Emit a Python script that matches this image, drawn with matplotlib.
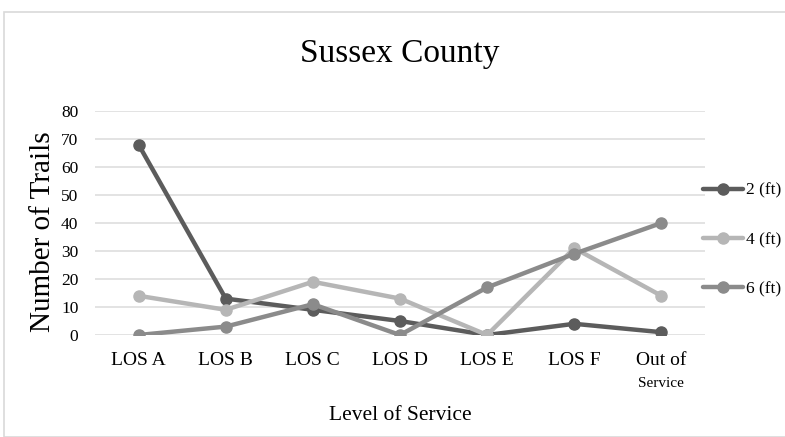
import matplotlib
matplotlib.use("Agg")
import matplotlib.pyplot as plt
from matplotlib.patches import Rectangle

categories = ["LOS A", "LOS B", "LOS C", "LOS D", "LOS E", "LOS F", "Out of\nService"]
series_names = ["2 (ft)", "4 (ft)", "6 (ft)"]
values_2ft = [68, 13, 9, 5, 0, 4, 1]
values_4ft = [14, 9, 19, 13, 0, 31, 14]
values_6ft = [0, 3, 11, 0, 17, 29, 40]
yticks = [0, 10, 20, 30, 40, 50, 60, 70, 80]

colors = ["#5c5c5c", "#b6b6b6", "#8b8b8b"]
serif = ["Liberation Serif", "DejaVu Serif"]
plt.rcParams["font.family"] = serif

W, H = 785, 437
fig = plt.figure(figsize=(W / 100, H / 100), dpi=100)
fig.patches.append(Rectangle((4 / W, 0), 1, 1 - 12 / H, transform=fig.transFigure,
                             fill=False, edgecolor="#d9d9d9", linewidth=1.2))

ax = fig.add_axes([95 / W, 1 - 335 / H, (705 - 95) / W, (335 - 111) / H])
x = list(range(len(categories)))
for vals, c, name in zip([values_2ft, values_4ft, values_6ft], colors, series_names):
    ax.plot(x, vals, color=c, linewidth=3.2, marker="o", markersize=8, label=name,
            solid_capstyle="round")

ax.set_xlim(-0.5, len(categories) - 0.5)
ax.set_ylim(0, 80)
ax.set_yticks(yticks)
ax.set_xticks(x)
ax.set_xticklabels([])
for xi, lab in zip(x, categories):
    if "\n" in lab:
        a, b = lab.split("\n")
        ax.text(xi, -6.0, a, ha="center", va="top", fontsize=14, clip_on=False)
        ax.text(xi, -15.0, b, ha="center", va="top", fontsize=11, clip_on=False)
    else:
        ax.text(xi, -6.0, lab, ha="center", va="top", fontsize=14, clip_on=False)
ax.tick_params(axis="both", length=0)
ax.tick_params(axis="y", labelsize=12.5, pad=12)
ax.yaxis.grid(True, color="#e3e3e3", linewidth=1.4)
ax.set_axisbelow(True)
for s in ax.spines.values():
    s.set_visible(False)
ax.set_ylabel("Number of Trails", fontsize=21)
ax.yaxis.set_label_coords(-0.064, 0.46)

fig.text(400 / W, 1 - 420 / H, "Level of Service", ha="center", va="baseline", fontsize=15.5)
fig.text(400 / W, 1 - 62 / H, "Sussex County", ha="center", va="baseline", fontsize=24)

leg = fig.legend(loc="center left", bbox_to_anchor=(703 / W, 1 - 240 / H), frameon=False,
                 fontsize=12.5, handlelength=2.3, handletextpad=0.2, labelspacing=1.92,
                 borderaxespad=0, borderpad=0)

fig.savefig("out.png", dpi=100)
